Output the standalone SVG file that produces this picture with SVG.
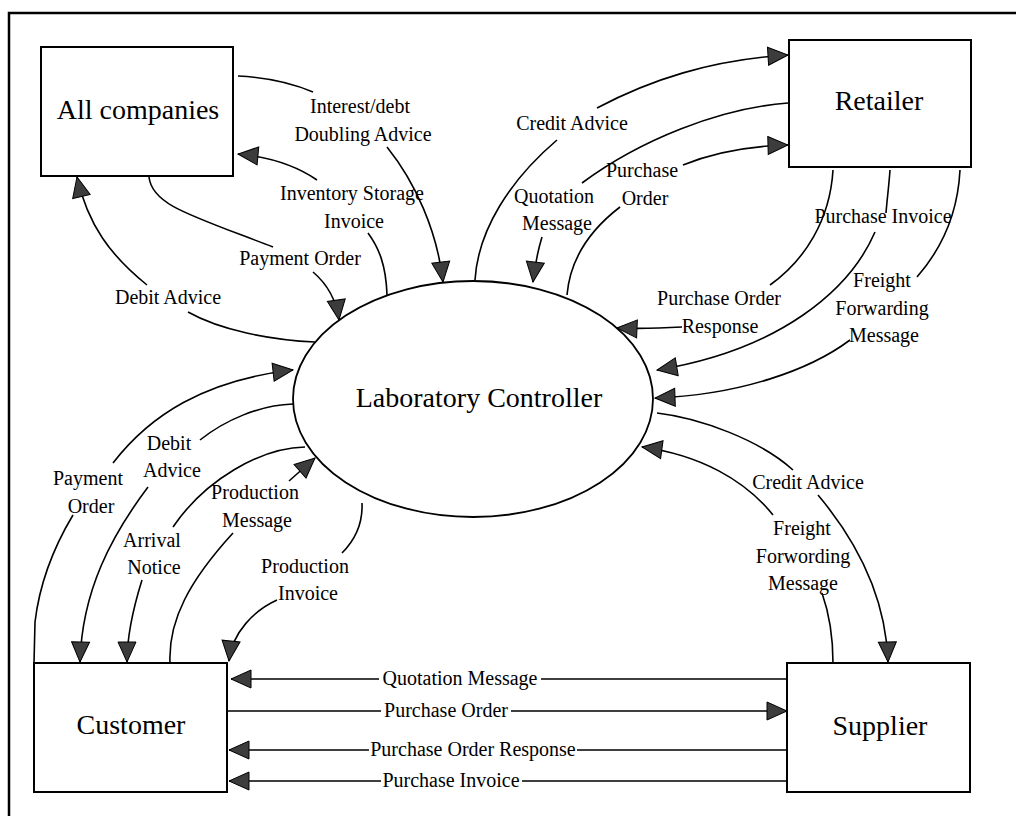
<svg xmlns="http://www.w3.org/2000/svg" width="1016" height="816" viewBox="0 0 1016 816">
  <style>
    .frame { fill: none; stroke: #000; stroke-width: 2.5; }
    .box { fill: #fff; stroke: #000; stroke-width: 2; }
    .proc { fill: #fff; stroke: #000; stroke-width: 1.8; }
    .title { font-family: "Liberation Serif", "Times New Roman", serif; font-size: 28px; fill: #000; text-anchor: middle; }
    .flow { fill: none; stroke: #000; stroke-width: 1.6; marker-end: url(#arrow); }
    .tail { fill: none; stroke: #000; stroke-width: 1.6; }
    .lbl { font-family: "Liberation Serif", "Times New Roman", serif; font-size: 20px; fill: #000; text-anchor: middle; }
  </style>
  <defs>
    <marker id="arrow" viewBox="0 0 22 20" markerWidth="22" markerHeight="20" refX="21" refY="10" orient="auto" markerUnits="userSpaceOnUse">
      <path d="M1,1 L21,10 L1,19 Z" fill="#3c3c3c" stroke="#000" stroke-width="1"/>
    </marker>
  </defs>

  <rect width="1016" height="816" fill="#fff"/>
  <!-- page frame: only top and left edges fall inside the view -->
  <rect class="frame" x="9" y="13" width="1040" height="840"/>

  <!-- external entities and the central process -->
  <g id="all-companies">
    <rect class="box" x="41" y="47" width="192" height="129"/>
    <text class="title" x="138" y="119">All companies</text>
  </g>
  <g id="retailer">
    <rect class="box" x="789" y="40" width="182" height="127"/>
    <text class="title" x="879" y="110">Retailer</text>
  </g>
  <g id="customer">
    <rect class="box" x="34" y="663" width="193" height="129"/>
    <text class="title" x="131" y="734">Customer</text>
  </g>
  <g id="supplier">
    <rect class="box" x="787" y="663" width="183" height="129"/>
    <text class="title" x="880" y="735">Supplier</text>
  </g>
  <g id="laboratory-controller">
    <ellipse class="proc" cx="473" cy="399" rx="180" ry="118"/>
    <text class="title" x="479" y="407">Laboratory Controller</text>
  </g>

  <!-- message flows -->
  <g id="connectors">
    <!-- All companies <-> Laboratory Controller -->
    <g>
      <path class="flow" d="M238,76 Q280,78 313,92 M387,147 C415,182 437,230 443,282"/>
      <text class="lbl" x="360" y="113">Interest/debt</text>
      <text class="lbl" x="363" y="141">Doubling Advice</text>
    </g>
    <g>
      <path class="flow" d="M387,295 C386,265 379,248 368,233 M317,180 C295,165 270,157 238,154"/>
      <text class="lbl" x="352" y="200">Inventory Storage</text>
      <text class="lbl" x="354" y="228">Invoice</text>
    </g>
    <g>
      <path class="flow" d="M149,177 C152,205 190,215 273,247 M313,272 C326,283 336,298 339,320"/>
      <text class="lbl" x="300" y="265">Payment Order</text>
    </g>
    <g>
      <path class="flow" d="M315,342 C270,340 220,330 188,312 M147,285 C110,255 88,225 77,177"/>
      <text class="lbl" x="168" y="304">Debit Advice</text>
    </g>

    <!-- Customer <-> Laboratory Controller -->
    <g>
      <path class="flow" d="M34,663 L35,622 C40,580 55,545 73,515 M113,463 C150,415 205,380 293,370"/>
      <text class="lbl" x="88" y="485">Payment</text>
      <text class="lbl" x="91" y="513">Order</text>
    </g>
    <g>
      <path class="flow" d="M293,404 C260,405 225,420 200,440 M148,487 C112,535 82,590 80,662"/>
      <text class="lbl" x="169" y="450">Debit</text>
      <text class="lbl" x="172" y="477">Advice</text>
    </g>
    <g>
      <path class="flow" d="M305,447 C260,448 205,480 173,527 M142,580 C132,612 127,640 127,662"/>
      <text class="lbl" x="152" y="547">Arrival</text>
      <text class="lbl" x="154" y="574">Notice</text>
    </g>
    <g>
      <path class="flow" d="M170,663 C168,620 190,580 233,533 M289,481 C297,474 306,466 315,458"/>
      <text class="lbl" x="255" y="499">Production</text>
      <text class="lbl" x="257" y="527">Message</text>
    </g>
    <g>
      <path class="flow" d="M362,503 C363,525 355,540 342,553 M277,600 C255,610 232,632 229,661"/>
      <text class="lbl" x="305" y="573">Production</text>
      <text class="lbl" x="308" y="600">Invoice</text>
    </g>

    <!-- Customer <-> Supplier -->
    <g>
      <path class="flow" d="M787,679 L541,679 M379,679 L231,679"/>
      <text class="lbl" x="460" y="685">Quotation Message</text>
    </g>
    <g>
      <path class="flow" d="M227,711 L381,711 M511,711 L787,711"/>
      <text class="lbl" x="446" y="717">Purchase Order</text>
    </g>
    <g>
      <path class="flow" d="M787,750 L577,750 M369,750 L229,750"/>
      <text class="lbl" x="473" y="756">Purchase Order Response</text>
    </g>
    <g>
      <path class="flow" d="M787,781 L522,781 M381,781 L229,781"/>
      <text class="lbl" x="451" y="787">Purchase Invoice</text>
    </g>

    <!-- Retailer <-> Laboratory Controller -->
    <g>
      <path class="flow" d="M475,280 C478,230 510,180 557,140 M597,108 C650,80 710,60 788,55"/>
      <text class="lbl" x="572" y="130">Credit Advice</text>
    </g>
    <g>
      <path class="flow" d="M788,103 C720,108 640,140 582,183 M542,237 C538,250 535,265 533,282"/>
      <text class="lbl" x="554" y="203">Quotation</text>
      <text class="lbl" x="557" y="230">Message</text>
    </g>
    <g>
      <path class="flow" d="M567,295 C570,260 590,230 620,207 M683,165 C715,152 750,146 788,145"/>
      <text class="lbl" x="642" y="177">Purchase</text>
      <text class="lbl" x="645" y="205">Order</text>
    </g>
    <g>
      <path class="flow" d="M833,170 C830,220 805,260 770,285 M682,327 C665,328 640,329 617,328"/>
      <text class="lbl" x="719" y="305">Purchase Order</text>
      <text class="lbl" x="720" y="333">Response</text>
    </g>
    <g>
      <path class="flow" d="M890,170 C889,185 887,200 886,213 M875,232 C850,290 780,350 657,370"/>
      <text class="lbl" x="883" y="223">Purchase Invoice</text>
    </g>
    <g>
      <path class="flow" d="M960,170 C958,210 945,245 917,277 M850,340 C810,370 740,395 655,398"/>
      <text class="lbl" x="882" y="287">Freight</text>
      <text class="lbl" x="882" y="315">Forwarding</text>
      <text class="lbl" x="884" y="342">Message</text>
    </g>

    <!-- Supplier <-> Laboratory Controller -->
    <g>
      <path class="flow" d="M657,413 C700,418 760,440 793,470 M818,495 C860,545 886,600 888,662"/>
      <text class="lbl" x="808" y="489">Credit Advice</text>
    </g>
    <g>
      <path class="flow" d="M833,663 C833,635 828,610 822,593 M773,515 C745,480 700,455 642,447"/>
      <text class="lbl" x="802" y="535">Freight</text>
      <text class="lbl" x="803" y="563">Forwording</text>
      <text class="lbl" x="803" y="590">Message</text>
    </g>
  </g>
</svg>
